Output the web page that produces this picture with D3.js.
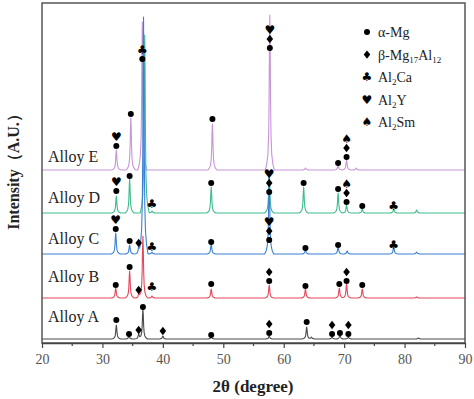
<!DOCTYPE html>
<html><head><meta charset="utf-8">
<script src="https://cdn.jsdelivr.net/npm/d3@7"></script>
<style>body{margin:0;background:#fff}svg{display:block}</style>
</head><body>
<script>
// ---------- DATA ----------
const alloys = ["Alloy A","Alloy B","Alloy C","Alloy D","Alloy E"];
const offsets = [4, 45, 89, 130, 173];           // baseline level of each pattern (A.U.)
const colors = ["#4a4a4a","#e4475c","#3b80d6","#3dbd8c","#c795d8"];
// peaks: [2theta, intensity]
const peaksA = [[32.3,14],[34.4,3],[36.0,5],[36.7,30],[40.0,3],[48.0,2],[57.6,3],[63.8,12],[64.6,2],[68.0,2],[69.3,4],[70.7,2],[82.3,1]];
const peaksB = [[32.2,10],[34.5,27],[36.0,4],[36.7,62],[38.2,2],[48.0,9],[57.6,13],[63.6,9],[69.2,10],[70.4,14],[73.0,9],[82.0,1]];
const peaksC = [[32.2,21],[34.5,9],[36.0,7],[36.8,237],[38.2,2],[48.0,10],[57.6,82],[63.6,4],[69.0,7],[70.5,3],[78.2,7],[82.0,2]];
const peaksD = [[32.3,17],[34.5,34],[37.0,178],[38.2,2],[48.0,26],[57.6,40],[63.3,26],[69.0,20],[70.4,8],[73.0,4],[78.2,4],[82.0,3]];
const peaksE = [[32.3,20],[34.7,52],[36.6,148],[48.2,46],[57.7,155],[63.6,2],[69.0,5],[70.4,10],[72.0,2]];
const peaks = [peaksA, peaksB, peaksC, peaksD, peaksE];
// phase markers: [alloy index, 2theta, level above baseline, symbols bottom->top]
const markers = [
 [0,32.3,19,"o"],[0,34.4,5,"o"],[0,36.0,9,"d"],[0,36.7,32,"o"],[0,40.0,8,"d"],[0,48.0,4,"o"],
 [0,57.6,6,"od"],[0,63.8,17,"o"],[0,68.0,5,"od"],[0,69.3,6,"o"],[0,70.7,5,"od"],
 [1,32.2,13,"o"],[1,34.5,31,"o"],[1,36.0,8,"d"],[1,38.2,11,"c"],[1,48.0,14,"o"],[1,57.6,17,"od"],
 [1,63.6,12,"o"],[1,69.2,14,"o"],[1,70.4,17,"od"],[1,73.0,13,"o"],
 [2,32.2,25,"oh"],[2,34.5,13,"o"],[2,36.0,11,"d"],[2,38.2,7,"c"],[2,48.0,12,"o"],[2,57.6,14,"odh"],
 [2,63.6,6,"o"],[2,69.0,9,"o"],[2,78.2,9,"c"],
 [3,32.3,22,"oh"],[3,34.5,37,"o"],[3,38.2,9,"c"],[3,48.0,30,"o"],[3,57.6,21,"odh"],[3,63.3,30,"o"],
 [3,69.0,24,"o"],[3,70.4,11,"ods"],[3,73.0,7,"o"],[3,78.2,7,"c"],
 [4,32.3,24,"oh"],[4,34.7,56,"o"],[4,36.6,111,"oc"],[4,48.2,51,"o"],[4,57.7,122,"odh"],
 [4,69.0,7,"o"],[4,70.4,13,"ods"]
];
const legendKeys = ["o","d","c","h","s"];
const legendLabels = [["α-Mg"],["β-Mg","17","Al","12"],["Al","2","Ca"],["Al","2","Y"],["Al","2","Sm"]];
const xTicks = [20,30,40,50,60,70,80,90];
const xMinor = [25,35,45,55,65,75,85];

// ---------- LAYOUT ----------
const W=474,H=399, L=42, R=465, T=3, B=343;
const svg=d3.select("body").append("svg").attr("width",W).attr("height",H);
const x=d3.scaleLinear().domain([20,90]).range([L,R]);
const y=d3.scaleLinear().domain([0,340]).range([B,T]);
const serif="Liberation Serif, DejaVu Serif, Times New Roman, serif";

// peak profile template: [distance in degrees, fraction of height]
const prof=[[0,1],[0.06,0.8],[0.12,0.45],[0.2,0.22],[0.32,0.1],[0.5,0.04],[0.75,0]];
function pf(d){d=Math.abs(d);for(let i=1;i<prof.length;i++){if(d<=prof[i][0]){const a=prof[i-1],b=prof[i];return a[1]+(b[1]-a[1])*(d-a[0])/(b[0]-a[0]);}}return 0;}
function curve(pk,off){
  let xs=[20,90];
  pk.forEach(p=>prof.forEach(q=>{xs.push(p[0]-q[0]);xs.push(p[0]+q[0]);}));
  xs=Array.from(new Set(xs.filter(v=>v>=20&&v<=90))).sort((a,b)=>a-b);
  return xs.map(v=>[v, off+d3.sum(pk,p=>p[1]*pf(v-p[0]))]);
}
const line=d3.line().x(d=>x(d[0])).y(d=>y(d[1]));
const g=svg.append("g");
[4,3,2,1,0].forEach(i=>{
  g.append("path").attr("d",line(curve(peaks[i],offsets[i]))).attr("fill","none")
   .attr("stroke",colors[i]).attr("stroke-width",1.1).attr("stroke-linejoin","round");
});

// symbols
function drawSym(sel,k,cx,cy){
  if(k==="o") sel.append("circle").attr("cx",cx).attr("cy",cy).attr("r",3).attr("fill","#000");
  else if(k==="d") sel.append("path").attr("d","M0,-4.2L3.3,0L0,4.2L-3.3,0Z").attr("transform",`translate(${cx},${cy})`).attr("fill","#000");
  else {
    const ch={c:"♣",h:"♥",s:"♠"}[k];
    sel.append("text").attr("x",cx).attr("y",cy).attr("text-anchor","middle").attr("dominant-baseline","central")
      .attr("font-family","DejaVu Sans").attr("font-size",12).attr("fill","#000").text(ch);
  }
}
const mg=svg.append("g");
markers.forEach(m=>{
  const cx=x(m[1]); const base=y(offsets[m[0]]+m[2]);
  m[3].split("").forEach((k,j)=>drawSym(mg,k,cx,base-j*9));
});

// alloy labels
const labelY=[322,282,244,203,162];
alloys.forEach((a,i)=>svg.append("text").attr("x",48).attr("y",labelY[i]).style("font-family",serif)
  .attr("font-size",16).attr("fill","#222").text(a));

// legend
legendKeys.forEach((k,i)=>{
  const cy=32+i*22.6;
  drawSym(svg,k,367,cy);
  const t=svg.append("text").attr("x",378).attr("y",cy+5).style("font-family",serif).attr("font-size",14).attr("fill","#222");
  legendLabels[i].forEach((s,j)=>{
    const sub=(legendLabels[i].length>1 && j%2===1);
    t.append("tspan").attr("font-size",sub?9:14).attr("dy",sub?3:(j>0?-3:0)).text(s);
  });
});

// frame & axis
svg.append("rect").attr("x",L).attr("y",T).attr("width",R-L).attr("height",B-T)
  .attr("fill","none").attr("stroke","#555").attr("stroke-width",1.5);
const ax=svg.append("g").attr("transform",`translate(0,${B})`)
  .call(d3.axisBottom(x).tickValues(xTicks).tickSize(5).tickSizeOuter(0).tickFormat(d3.format("d")));
ax.attr("font-family",null);
ax.select(".domain").attr("stroke","#444").attr("stroke-width",1.5);
ax.selectAll(".tick line").attr("stroke","#444").attr("stroke-width",1.2);
ax.selectAll(".tick text").style("font-family",serif).attr("font-size",14).attr("fill","#555").attr("dy","0.9em");
svg.append("g").attr("transform",`translate(0,${B})`).selectAll("line").data(xMinor).join("line")
  .attr("x1",d=>x(d)).attr("x2",d=>x(d)).attr("y1",0).attr("y2",3).attr("stroke","#444").attr("stroke-width",1.2);

svg.append("text").attr("x",253).attr("y",392).attr("text-anchor","middle").style("font-family",serif)
  .attr("font-weight","bold").attr("font-size",17).attr("fill","#222").text("2θ (degree)");
svg.append("text").attr("transform","translate(19,168) rotate(-90)").attr("text-anchor","middle")
  .style("font-family",serif).attr("font-weight","bold").attr("font-size",16).attr("fill","#222").text("Intensity（A.U.）");
</script>
</body></html>
